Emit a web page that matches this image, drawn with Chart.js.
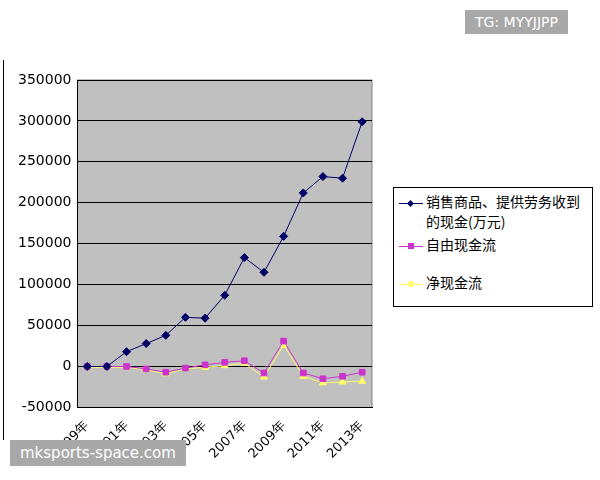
<!DOCTYPE html><html><head><meta charset="utf-8">
<script src="https://cdn.jsdelivr.net/npm/chart.js@4"></script>
<style>
body{margin:0;width:600px;height:480px;background:#fff;position:relative;font-family:"Noto Sans CJK SC",sans-serif;overflow:hidden}
#wrap{position:absolute;left:0;top:60px;width:390px;height:405px}
.tag{position:absolute;background:#a8a8a8;color:#fff;font-family:"DejaVu Sans";font-size:14px;padding:4px 10px}
#legend{position:absolute;left:393px;top:187px;width:198px;height:118px;border:1px solid #000;background:#fff;font-size:14px;color:#000}
.li{position:absolute;left:5px}
.sw{display:inline-block;width:24px;height:1px;vertical-align:middle;position:relative;margin-right:3px}
.sw i{position:absolute;left:9px;top:-3px;width:6px;height:6px}
#frame{position:absolute;left:3px;top:60px;width:1px;height:380px;background:#000}
</style></head><body>
<div id="frame"></div>
<div id="wrap"><canvas id="c" width="390" height="405"></canvas></div>
<div id="legend">
<div class="li" style="top:3px"><span class="sw" style="background:#000066"><i style="background:#000066;transform:rotate(45deg);width:5px;height:5px;top:-2px"></i></span>销售商品、提供劳务收到<br><span style="padding-left:27px">的现金(万元)</span></div>
<div class="li" style="top:46px"><span class="sw" style="background:#cc33cc"><i style="background:#cc33cc"></i></span>自由现金流</div>
<div class="li" style="top:84px"><span class="sw" style="background:#ffff66"><i style="background:#ffff66;border-radius:3px"></i></span>净现金流</div>
</div>
<div class="tag" style="left:465px;top:10px">TG: MYYJJPP</div>
<div class="tag" style="left:10px;top:440px;font-size:15px">mksports-space.com</div>
<script>
const years=["1999年","2000年","2001年","2002年","2003年","2004年","2005年","2006年","2007年","2008年","2009年","2010年","2011年","2012年","2013年"];
const sales=[0,0,18000,28000,38000,60000,59000,87000,133000,115000,159000,212000,232000,230000,299000];
const freeCF=[0,0,0,-3000,-7000,-2000,2000,5000,7000,-8000,31000,-8000,-15000,-12000,-7000];
const netCF=[-1000,-1000,-1000,-4000,-9000,-3000,-1000,1000,4000,-13000,26000,-12000,-20000,-19000,-18000];
const bg={id:'bg',beforeDraw(c){const a=c.chartArea,x=c.ctx;x.save();x.fillStyle='#c0c0c0';x.fillRect(a.left,a.top,a.right-a.left,a.bottom-a.top);x.strokeStyle='#808080';x.strokeRect(a.left,a.top,a.right-a.left,a.bottom-a.top);x.restore();}};
new Chart(document.getElementById('c'),{type:'line',
data:{labels:years,datasets:[
{data:sales,borderColor:'#000066',backgroundColor:'#000066',borderWidth:1,pointStyle:'rectRot',pointRadius:4},
{data:freeCF,borderColor:'#cc33cc',backgroundColor:'#cc33cc',borderWidth:1,pointStyle:'rect',pointRadius:4},
{data:netCF,borderColor:'#ffff66',backgroundColor:'#ffff66',borderWidth:1,pointStyle:'triangle',pointRadius:4}]},
options:{responsive:false,animation:false,layout:{padding:{top:20,right:18,left:12,bottom:0}},
plugins:{legend:{display:false},tooltip:{enabled:false}},
scales:{x:{offset:true,grid:{display:false},border:{color:'#000'},
ticks:{autoSkip:false,maxRotation:45,minRotation:45,color:'#000',font:{size:13,family:'DejaVu Sans'},callback:(v,i)=>i%2===0?years[i]:''}},
y:{min:-50000,max:350000,ticks:{stepSize:50000,color:'#000',padding:6,font:{size:14,family:'DejaVu Sans'},callback:v=>String(v)},grid:{color:'#000',drawTicks:false},border:{color:'#000'}}}},
plugins:[bg]});
</script></body></html>
